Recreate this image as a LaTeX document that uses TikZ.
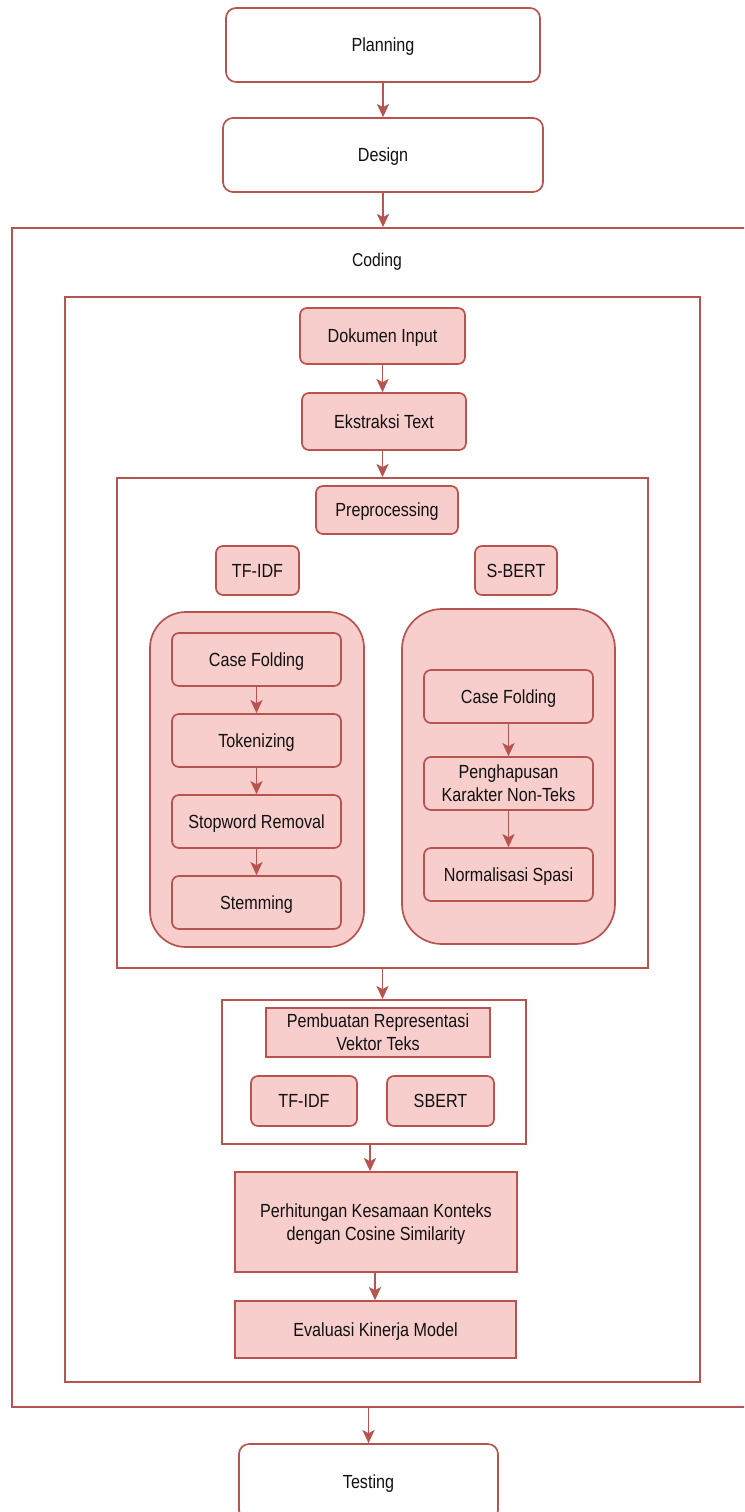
\documentclass[tikz,border=0pt]{standalone}
\usepackage{fontspec}
\setmainfont[FakeStretch=0.85]{Liberation Sans}
\usetikzlibrary{arrows.meta}
\definecolor{edge}{HTML}{B85450}
\definecolor{pink}{HTML}{F8CECC}
\definecolor{ink}{HTML}{111111}
\tikzset{
  box/.style={draw=edge, line width=1.7pt, text=ink, align=center, inner sep=0pt,
    text depth=0pt, font=\fontsize{19pt}{23pt}\selectfont},
  phase/.style={box, fill=white, rounded corners=10pt},
  frame/.style={draw=edge, line width=1.9pt, fill=white, inner sep=0pt},
  stepbox/.style={box, fill=pink, rounded corners=7pt},
  flatbox/.style={box, fill=pink},
  group/.style={draw=edge, line width=1.7pt, fill=pink, rounded corners=36pt, inner sep=0pt},
  arr/.style={draw=edge, line width=1.9pt, -{Stealth[length=13pt,width=12pt,inset=3pt]}},
}
\begin{document}
\begin{tikzpicture}[x=1pt, y=-1pt]
\useasboundingbox (0,0) rectangle (744,1512);
\clip (0,0) rectangle (744,1512);
\fill[white] (0,0) rectangle (744,1512);

% outer phases
\node[phase, minimum width=314pt, minimum height=74pt] (plan) at (383,45) {Planning};
\node[phase, minimum width=320pt, minimum height=74pt] (design) at (383,155) {Design};

% coding frame and its nested frames
\node[frame, minimum width=758pt, minimum height=1179pt] (coding) at (391,817.5) {};
\node[text=ink, text depth=0pt, font=\fontsize{18.5pt}{22pt}\selectfont] (codinglbl) at (377,260) {Coding};
\node[frame, minimum width=635pt, minimum height=1085pt] (inner) at (382.5,839.5) {};

\node[stepbox, minimum width=165pt, minimum height=56pt] (doc) at (382.5,336) {Dokumen Input};
\node[stepbox, minimum width=164pt, minimum height=57pt] (ext) at (384,421.5) {Ekstraksi Text};

% preprocessing block
\node[frame, minimum width=531pt, minimum height=490pt] (prebox) at (382.5,723) {};
\node[stepbox, minimum width=142pt, minimum height=48pt] (prep) at (387,510) {Preprocessing};
\node[stepbox, minimum width=83pt, minimum height=49pt] (tfl) at (257.5,570.5) {TF-IDF};
\node[stepbox, minimum width=82pt, minimum height=49pt] (sbl) at (516,570.5) {S-BERT};

\node[group, minimum width=214pt, minimum height=335pt] (lgroup) at (257,779.5) {};
\node[stepbox, minimum width=169pt, minimum height=53pt] (l1) at (256.5,659.5) {Case Folding};
\node[stepbox, minimum width=169pt, minimum height=53pt] (l2) at (256.5,740.5) {Tokenizing};
\node[stepbox, minimum width=169pt, minimum height=53pt] (l3) at (256.5,821.5) {Stopword Removal};
\node[stepbox, minimum width=169pt, minimum height=53pt] (l4) at (256.5,902.5) {Stemming};

\node[group, rounded corners=40pt, minimum width=213pt, minimum height=335pt] (rgroup) at (508.5,776.5) {};
\node[stepbox, minimum width=169pt, minimum height=53pt] (r1) at (508.5,696.5) {Case Folding};
\node[stepbox, minimum width=169pt, minimum height=53pt] (r2) at (508.5,783.5) {Penghapusan\\Karakter Non-Teks};
\node[stepbox, minimum width=169pt, minimum height=53pt] (r3) at (508.5,874.5) {Normalisasi Spasi};

% vector representation block
\node[frame, minimum width=304pt, minimum height=144pt] (vbox) at (374,1072) {};
\node[flatbox, minimum width=224pt, minimum height=49pt] (vtitle) at (378,1032.5) {Pembuatan Representasi\\Vektor Teks};
\node[stepbox, minimum width=106pt, minimum height=50pt] (vtf) at (304,1101) {TF-IDF};
\node[stepbox, minimum width=107pt, minimum height=50pt] (vsb) at (440.5,1101) {SBERT};

\node[flatbox, minimum width=282pt, minimum height=100pt] (perh) at (376,1222) {Perhitungan Kesamaan Konteks\\dengan Cosine Similarity};
\node[flatbox, minimum width=281pt, minimum height=57pt] (eval) at (375.5,1329.5) {Evaluasi Kinerja Model};

\node[phase, minimum width=259pt, minimum height=76pt] (test) at (368.5,1482) {Testing};

% connectors
\draw[arr] (plan.south) -- (design.north);
\draw[arr] (design.south) -- (design.south |- coding.north);
\draw[arr] (doc.south) -- (doc.south |- ext.north);
\draw[arr] (doc.south |- ext.south) -- (doc.south |- prebox.north);
\draw[arr] (l1) -- (l2);
\draw[arr] (l2) -- (l3);
\draw[arr] (l3) -- (l4);
\draw[arr] (r1) -- (r2);
\draw[arr] (r2) -- (r3);
\draw[arr] (prebox.south) -- (prebox.south |- vbox.north);
\draw[arr] ([xshift=-4pt]vbox.south) -- ([xshift=-4pt]vbox.south |- perh.north);
\draw[arr] ([xshift=-1pt]perh.south) -- ([xshift=-1pt]perh.south |- eval.north);
\draw[arr] (test.north |- coding.south) -- (test.north);
\end{tikzpicture}
\end{document}
